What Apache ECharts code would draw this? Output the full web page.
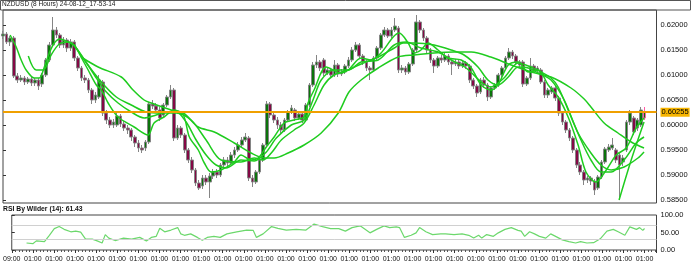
<!DOCTYPE html>
<html><head><meta charset="utf-8">
<script src="https://cdn.jsdelivr.net/npm/echarts@6.0.0/dist/echarts.min.js"></script>
<style>html,body{margin:0;padding:0;background:#fff}#c{width:692px;height:280px}</style>
</head><body><div id="c"></div>
<script>
const chartTitle = 'NZDUSD (8 Hours) 24-08-12_17-53-14';
const rsiTitle = 'RSI By Wilder (14): 61.43';
const timeLabels = ['09:00','01:00','01:00','01:00','01:00','01:00','01:00','01:00','01:00','01:00','01:00',
  '01:00','01:00','01:00','01:00','01:00','01:00','01:00','01:00','01:00','01:00',
  '01:00','01:00','01:00','01:00','01:00','01:00','01:00','01:00','01:00','01:00'];
const priceTicks = [0.585, 0.590, 0.595, 0.600, 0.605, 0.610, 0.615, 0.620];
const rsiTicks = [0, 50, 100];
const rsiLevels = [30, 70];
const lastPrice = 0.60255;

const opens = [
0.6178,0.6182,0.6166,0.6174,0.6098,0.6090,0.6094,0.6086,0.6092,0.6084,
0.6090,0.6082,0.6100,0.6130,0.6160,0.6190,0.6180,0.6160,0.6170,0.6154,
0.6166,0.6134,0.6114,0.6094,0.6090,0.6070,0.6050,0.6056,0.6086,0.6024,
0.6010,0.6000,0.6000,0.6018,0.6002,0.5994,0.5990,0.5976,0.5964,0.5954,
0.5954,0.5966,0.6042,0.6038,0.6030,0.6020,0.6040,0.6056,0.6070,0.5974,
0.5994,0.5980,0.5950,0.5930,0.5910,0.5884,0.5878,0.5894,0.5886,0.5898,
0.5906,0.5900,0.5920,0.5930,0.5924,0.5940,0.5950,0.5960,0.5970,0.5974,
0.5894,0.5886,0.5906,0.5930,0.5960,0.6042,0.6020,0.6010,0.6000,0.5990,
0.6010,0.6026,0.6030,0.6014,0.6022,0.6010,0.6040,0.6080,0.6120,0.6126,
0.6130,0.6104,0.6110,0.6100,0.6120,0.6102,0.6106,0.6118,0.6130,0.6150,
0.6160,0.6138,0.6126,0.6114,0.6110,0.6134,0.6154,0.6180,0.6190,0.6178,
0.6190,0.6194,0.6110,0.6114,0.6106,0.6122,0.6150,0.6206,0.6190,0.6174,
0.6150,0.6130,0.6118,0.6134,0.6130,0.6138,0.6126,0.6122,0.6126,0.6118,
0.6124,0.6118,0.6090,0.6078,0.6066,0.6090,0.6080,0.6056,0.6074,0.6080,
0.6100,0.6114,0.6134,0.6146,0.6138,0.6126,0.6126,0.6082,0.6094,0.6118,
0.6110,0.6110,0.6086,0.6060,0.6066,0.6074,0.6054,0.6024,0.6006,0.5990,
0.5974,0.5950,0.5920,0.5906,0.5890,0.5894,0.5888,0.5874,0.5896,0.5926,
0.5950,0.5954,0.5950,0.5940,0.5926,0.5950,0.6006,0.6014,0.5994,0.6000,
0.6014];
const closes = [
0.6182,0.6166,0.6174,0.6098,0.6090,0.6094,0.6086,0.6092,0.6084,0.6090,
0.6078,0.6100,0.6130,0.6160,0.6190,0.6180,0.6160,0.6170,0.6154,0.6166,
0.6134,0.6114,0.6094,0.6090,0.6070,0.6050,0.6060,0.6090,0.6024,0.6010,
0.6000,0.6006,0.6018,0.6002,0.5994,0.5990,0.5976,0.5964,0.5954,0.5950,
0.5966,0.6042,0.6038,0.6030,0.6014,0.6040,0.6056,0.6070,0.5974,0.5994,
0.5980,0.5950,0.5930,0.5910,0.5884,0.5874,0.5894,0.5886,0.5898,0.5906,
0.5900,0.5920,0.5930,0.5924,0.5940,0.5950,0.5960,0.5970,0.5976,0.5894,
0.5886,0.5906,0.5930,0.5960,0.6042,0.6020,0.6010,0.6000,0.5990,0.6010,
0.6026,0.6034,0.6014,0.6022,0.6010,0.6040,0.6080,0.6120,0.6126,0.6114,
0.6104,0.6110,0.6100,0.6120,0.6102,0.6106,0.6118,0.6130,0.6150,0.6160,
0.6138,0.6126,0.6114,0.6110,0.6134,0.6154,0.6180,0.6190,0.6178,0.6190,
0.6198,0.6110,0.6114,0.6106,0.6122,0.6150,0.6206,0.6190,0.6174,0.6150,
0.6130,0.6118,0.6134,0.6130,0.6138,0.6126,0.6122,0.6126,0.6118,0.6124,
0.6118,0.6090,0.6078,0.6064,0.6090,0.6080,0.6056,0.6074,0.6080,0.6100,
0.6114,0.6134,0.6146,0.6138,0.6126,0.6120,0.6082,0.6094,0.6118,0.6110,
0.6114,0.6086,0.6060,0.6070,0.6074,0.6054,0.6024,0.6006,0.5990,0.5974,
0.5950,0.5920,0.5906,0.5890,0.5894,0.5888,0.5870,0.5896,0.5926,0.5952,
0.5956,0.5960,0.5930,0.5920,0.5934,0.6006,0.6024,0.5986,0.6010,0.6030,
0.60255];
const lows = [
0.6172,0.6162,0.6158,0.6094,0.6084,0.6086,0.6080,0.6082,0.6078,0.6078,
0.6070,0.6076,0.6096,0.6126,0.6156,0.6174,0.6154,0.6154,0.6146,0.6148,
0.6128,0.6108,0.6088,0.6084,0.6064,0.6042,0.6044,0.6052,0.6018,0.6002,
0.5994,0.5994,0.5996,0.5996,0.5988,0.5982,0.5968,0.5956,0.5946,0.5944,
0.5948,0.5962,0.6032,0.6024,0.6008,0.6014,0.6036,0.6052,0.5968,0.5970,
0.5974,0.5944,0.5924,0.5904,0.5878,0.5870,0.5872,0.5880,0.5854,0.5892,
0.5894,0.5896,0.5916,0.5918,0.5920,0.5934,0.5946,0.5954,0.5966,0.5888,
0.5876,0.5882,0.5902,0.5926,0.5956,0.6014,0.6004,0.5992,0.5984,0.5986,
0.6006,0.6022,0.6008,0.6010,0.6004,0.6006,0.6036,0.6076,0.6114,0.6108,
0.6098,0.6100,0.6094,0.6096,0.6096,0.6098,0.6102,0.6114,0.6126,0.6146,
0.6134,0.6120,0.6108,0.6090,0.6106,0.6130,0.6150,0.6176,0.6174,0.6174,
0.6186,0.6104,0.6104,0.6100,0.6102,0.6118,0.6146,0.6184,0.6168,0.6144,
0.6124,0.6104,0.6114,0.6124,0.6126,0.6120,0.6100,0.6118,0.6112,0.6114,
0.6112,0.6084,0.6072,0.6056,0.6062,0.6074,0.6048,0.6052,0.6070,0.6076,
0.6096,0.6110,0.6130,0.6132,0.6120,0.6114,0.6076,0.6078,0.6090,0.6104,
0.6106,0.6082,0.6054,0.6054,0.6062,0.6048,0.6018,0.6000,0.5984,0.5968,
0.5944,0.5914,0.5900,0.5880,0.5884,0.5880,0.5860,0.5870,0.5892,0.5922,
0.5946,0.5950,0.5924,0.5850,0.5918,0.5946,0.6000,0.5980,0.5988,0.5996,
0.6010];
const highs = [
0.6188,0.6186,0.6178,0.6178,0.6104,0.6100,0.6098,0.6096,0.6096,0.6094,
0.6094,0.6104,0.6134,0.6166,0.6216,0.6196,0.6184,0.6176,0.6174,0.6172,
0.6170,0.6138,0.6118,0.6100,0.6094,0.6074,0.6066,0.6100,0.6090,0.6030,
0.6016,0.6012,0.6024,0.6022,0.6008,0.6000,0.5994,0.5980,0.5970,0.5960,
0.5970,0.6046,0.6050,0.6044,0.6036,0.6044,0.6060,0.6080,0.6074,0.6000,
0.5998,0.5984,0.5954,0.5936,0.5914,0.5890,0.5900,0.5900,0.5904,0.5912,
0.5912,0.5924,0.5936,0.5936,0.5946,0.5956,0.5966,0.5976,0.5984,0.5978,
0.5900,0.5910,0.5934,0.5964,0.6048,0.6046,0.6026,0.6016,0.6006,0.6014,
0.6030,0.6040,0.6034,0.6028,0.6026,0.6044,0.6084,0.6126,0.6140,0.6130,
0.6134,0.6116,0.6114,0.6130,0.6124,0.6112,0.6122,0.6136,0.6156,0.6166,
0.6164,0.6142,0.6130,0.6118,0.6138,0.6158,0.6184,0.6196,0.6194,0.6196,
0.6214,0.6198,0.6120,0.6118,0.6126,0.6154,0.6220,0.6210,0.6194,0.6178,
0.6154,0.6134,0.6138,0.6140,0.6144,0.6142,0.6130,0.6132,0.6130,0.6128,
0.6128,0.6122,0.6094,0.6082,0.6094,0.6096,0.6084,0.6078,0.6084,0.6104,
0.6118,0.6138,0.6154,0.6150,0.6142,0.6130,0.6130,0.6098,0.6134,0.6122,
0.6118,0.6114,0.6090,0.6074,0.6078,0.6078,0.6058,0.6028,0.6010,0.5994,
0.5978,0.5954,0.5926,0.5910,0.5898,0.5898,0.5892,0.5900,0.5930,0.5956,
0.5962,0.5974,0.5954,0.5944,0.5940,0.6010,0.6030,0.6018,0.6014,0.6036,
0.6036];

// moving-average lines: [candle index, price]
const ma1 = [[2,0.6180],[3.7,0.6156],[5.1,0.6130],[6.5,0.6110],[8.8,0.6094],[10.2,0.6094],[11.6,0.6116],[13.0,0.6144],[14.4,0.6164],[16.0,0.6172],[18.3,0.6166],[20.0,0.6160],[21.9,0.6136],[23.9,0.6110],[26.2,0.6080],[27.6,0.6070],[29.5,0.6044],[32.3,0.6016],[36.8,0.5996],[40.7,0.5980],[42.4,0.6004],[45.2,0.6016],[48.0,0.6030],[50.6,0.6020],[52.3,0.5976],[54.8,0.5950],[56.5,0.5924],[58.4,0.5906],[61.2,0.5910],[64.9,0.5926],[66.8,0.5940],[69.6,0.5930],[71.6,0.5934],[73.9,0.5956],[76.1,0.5976],[78.9,0.6004],[81.7,0.6010],[84.5,0.6016],[85.6,0.6044],[87.3,0.6070],[90.7,0.6116],[94.9,0.6104],[96.9,0.6110],[100.5,0.6134],[103.3,0.6130],[106.1,0.6144],[109.5,0.6176],[111.2,0.6184],[113.7,0.6164],[115.4,0.6144],[117.3,0.6150],[119.3,0.6164],[122.1,0.6150],[124.9,0.6134],[128.6,0.6130],[131.4,0.6114],[134.2,0.6080],[136.9,0.6070],[138.9,0.6080],[141.8,0.6120],[144.6,0.6126],[147.4,0.6106],[150.2,0.6110],[153.0,0.6080],[155.8,0.6056],[158.6,0.6016],[161.4,0.5960],[163.6,0.5906],[166.4,0.5886],[169.3,0.5910],[172.1,0.5940],[174.9,0.5954],[177.7,0.5994],[179.9,0.6014]];
const ma2 = [[7.1,0.6138],[9.3,0.6110],[11.3,0.6110],[13.5,0.6140],[15.8,0.6162],[18.3,0.6166],[20.5,0.6154],[23.3,0.6126],[26.2,0.6094],[29.0,0.6066],[32.3,0.6044],[36.0,0.6026],[39.6,0.6014],[43.0,0.6020],[45.8,0.6026],[48.6,0.6026],[51.4,0.6006],[54.2,0.5970],[57.0,0.5940],[59.8,0.5920],[62.6,0.5914],[66.8,0.5930],[70.5,0.5928],[73.9,0.5946],[76.7,0.5974],[80.9,0.6000],[84.5,0.6010],[87.0,0.6050],[89.3,0.6090],[92.9,0.6110],[96.9,0.6110],[100.5,0.6126],[105.3,0.6130],[109.8,0.6160],[113.1,0.6166],[117.3,0.6154],[122.1,0.6146],[125.8,0.6130],[130.0,0.6114],[134.2,0.6086],[136.9,0.6076],[140.6,0.6094],[144.6,0.6124],[148.2,0.6116],[151.0,0.6106],[153.8,0.6094],[155.8,0.6076],[158.6,0.6030],[162.2,0.5970],[165.0,0.5930],[167.8,0.5906],[170.7,0.5906],[174.3,0.5930],[177.7,0.5964],[179.9,0.5976]];
const ma3 = [[20.0,0.6160],[22.8,0.6130],[27.6,0.6086],[31.8,0.6056],[36.0,0.6040],[40.2,0.6026],[44.4,0.6024],[48.6,0.6024],[52.8,0.6010],[57.0,0.5970],[61.2,0.5930],[66.8,0.5926],[70.5,0.5934],[73.0,0.5930],[75.3,0.5944],[78.1,0.5970],[81.7,0.5990],[84.5,0.6004],[87.3,0.6040],[90.1,0.6080],[92.9,0.6100],[96.9,0.6110],[100.5,0.6122],[105.3,0.6136],[109.8,0.6154],[112.3,0.6164],[115.4,0.6164],[121.0,0.6160],[125.8,0.6150],[129.4,0.6140],[133.3,0.6116],[136.1,0.6090],[138.9,0.6080],[141.8,0.6096],[144.6,0.6116],[147.4,0.6114],[150.2,0.6104],[153.8,0.6090],[157.5,0.6050],[161.4,0.5984],[165.0,0.5944],[167.8,0.5920],[170.7,0.5910],[174.3,0.5916],[178.2,0.5934],[179.9,0.5946]];
const ma4 = [[21.9,0.6136],[26.7,0.6116],[33.2,0.6096],[36.5,0.6070],[39.6,0.6050],[41.6,0.6044],[47.2,0.6030],[50.6,0.6024],[54.8,0.5996],[59.3,0.5986],[64.9,0.5964],[69.6,0.5944],[73.3,0.5934],[76.1,0.5934],[80.0,0.5944],[84.5,0.5960],[89.3,0.5984],[94.1,0.6024],[97.1,0.6066],[100.5,0.6090],[105.3,0.6114],[110.9,0.6136],[115.4,0.6140],[121.0,0.6144],[126.6,0.6146],[131.4,0.6146],[136.9,0.6136],[142.6,0.6120],[148.2,0.6106],[153.8,0.6096],[159.4,0.6074],[163.1,0.6052],[165.0,0.6036],[168.7,0.6004],[172.6,0.5984],[176.3,0.5966],[179.9,0.5954]];
const ma5 = [[172.9,0.5850],[176.3,0.5930],[179.9,0.6006]];

// RSI line: [candle index, value]
const rsi = [[4.2,20],[6.0,18],[7.0,26],[9.3,24],[10.7,42],[12.1,61],[13.5,67],[14.9,59],[16.8,52],[18.2,54],[19.6,51],[21.0,31],[22.9,31],[24.3,26],[25.7,20],[26.6,44],[27.6,34],[29.4,27],[31.8,34],[34.1,31],[36.4,36],[38.3,26],[39.7,36],[41.1,39],[42.1,62],[43.5,52],[45.3,57],[47.2,64],[48.1,46],[49.1,42],[50.9,46],[52.8,36],[54.2,28],[55.6,36],[57.5,39],[59.3,36],[61.2,46],[64.0,52],[66.8,57],[68.7,56],[69.6,36],[71.5,46],[73.9,67],[75.7,62],[78.1,57],[80.9,59],[83.7,57],[86.0,74],[88.4,67],[90.7,61],[93.0,61],[94.9,54],[96.8,64],[99.1,69],[101.9,49],[103.8,59],[105.9,69],[107.5,64],[109.4,66],[110.3,64],[111.7,36],[113.6,42],[115.0,49],[116.0,64],[117.8,52],[119.7,44],[122.0,46],[123.4,46],[125.8,44],[128.1,46],[130.0,42],[131.4,34],[132.8,42],[133.7,34],[135.1,44],[137.0,39],[138.4,49],[140.3,59],[142.1,64],[144.0,56],[144.9,54],[145.9,39],[147.3,52],[148.7,46],[150.1,39],[151.9,34],[153.3,46],[154.7,39],[156.6,29],[158.5,24],[160.4,20],[160.8,17],[161.8,24],[163.6,20],[165.5,21],[167.4,32],[169.3,54],[171.1,59],[172.5,52],[174.4,42],[175.8,66],[177.7,59],[178.6,64],[179.5,56],[180,61.43]];

const FONT = 'Liberation Sans, Arial, sans-serif';
const candles = opens.map((o, i) => {
  const item = { value: [i, o, closes[i], lows[i], highs[i]] };
  if (i === opens.length - 1) item.itemStyle = { borderColor: '#ff5aa5', borderColor0: '#ff5aa5' };
  return item;
});
const xMax = 183.4;
function xAxisBase(gridIndex, showLabels) {
  return {
    type: 'value', gridIndex, min: 0, max: xMax, interval: 6,
    axisLine: { show: false },
    splitLine: { show: false },
    axisTick: { show: showLabels, length: 3, lineStyle: { color: '#333' } },
    minorTick: { show: showLabels, splitNumber: 6, length: 2, lineStyle: { color: '#555' } },
    axisLabel: {
      show: showLabels, showMaxLabel: false, alignMinLabel: 'center', margin: 6,
      fontFamily: FONT, fontSize: 7, color: '#111',
      formatter: v => (Math.abs(v % 6) < 1e-6 ? (timeLabels[Math.round(v / 6)] || '') : '')
    }
  };
}
const lineStyleMA = { color: '#1fcc1f', width: 1.5 };
function maSeries(data, extra) {
  return Object.assign({ type: 'line', xAxisIndex: 0, yAxisIndex: 0, data, smooth: 0.3, showSymbol: false,
    lineStyle: lineStyleMA, z: 4, silent: true }, extra || {});
}
const priceLine = {
  markLine: { silent: true, symbol: ['none', 'none'], animation: false, precision: 5,
    lineStyle: { color: '#f0a000', width: 2, type: 'solid' },
    label: { show: true, position: 'end', distance: 4, formatter: () => lastPrice.toFixed(5),
      backgroundColor: '#f7b500', color: '#000', fontFamily: FONT, fontSize: 7.5, padding: [1, 1, 0, 1] },
    data: [{ yAxis: lastPrice }] }
};

const chart = echarts.init(document.getElementById('c'), null, { renderer: 'canvas' });
chart.setOption({
  animation: false,
  backgroundColor: '#ffffff',
  title: [
    { text: chartTitle, left: 2, top: 1, padding: 0,
      textStyle: { fontFamily: FONT, fontSize: 6.5, fontWeight: 'normal', color: '#222' } },
    { text: rsiTitle, left: 3, top: 206, padding: 0,
      textStyle: { fontFamily: FONT, fontSize: 6.8, fontWeight: 'bold', color: '#111' } }
  ],
  graphic: [
    { type: 'rect', silent: true, shape: { x: 0.5, y: 0.5, width: 690, height: 9.5 },
      style: { fill: 'none', stroke: '#555', lineWidth: 1 } }
  ],
  grid: [
    { left: 3, right: 35.5, top: 10, height: 193, show: true, borderColor: '#444', borderWidth: 1, backgroundColor: '#fff' },
    { left: 3, right: 35.5, top: 215, height: 35, show: true, borderColor: '#444', borderWidth: 1, backgroundColor: '#fff' }
  ],
  xAxis: [xAxisBase(0, false), xAxisBase(1, true)],
  yAxis: [
    { type: 'value', gridIndex: 0, position: 'right', min: 0.5844, max: 0.6230,
      axisLine: { show: false }, splitLine: { show: false },
      axisTick: { show: true, length: 3, customValues: priceTicks, lineStyle: { color: '#333' } },
      axisLabel: { customValues: priceTicks, margin: 4, fontFamily: FONT, fontSize: 7.5, color: '#111',
        formatter: v => v.toFixed(5) } },
    { type: 'value', gridIndex: 1, position: 'right', min: 0, max: 100,
      axisLine: { show: false }, splitLine: { show: false },
      axisTick: { show: true, length: 3, customValues: rsiTicks, lineStyle: { color: '#333' } },
      axisLabel: { customValues: rsiTicks, margin: 4, fontFamily: FONT, fontSize: 7.5, color: '#111',
        formatter: v => v.toFixed(2) } }
  ],
  series: [
    { type: 'candlestick', xAxisIndex: 0, yAxisIndex: 0, data: candles, barWidth: 3.2,
      encode: { x: 0, y: [1, 2, 3, 4] }, z: 2,
      itemStyle: { color: '#0c730c', color0: '#840845', borderColor: '#858585', borderColor0: '#858585', borderWidth: 1 } },
    maSeries(ma4, priceLine), maSeries(ma3), maSeries(ma2), maSeries(ma1), maSeries(ma5),
    { type: 'line', xAxisIndex: 1, yAxisIndex: 1, data: rsi, showSymbol: false, silent: true,
      lineStyle: { color: '#6cd86c', width: 1.2 }, z: 3,
      markLine: { silent: true, symbol: ['none', 'none'], animation: false, label: { show: false },
        lineStyle: { color: '#d0d0d0', width: 1, type: 'solid' },
        data: rsiLevels.map(v => ({ yAxis: v })) } }
  ]
});
</script>
</body></html>
